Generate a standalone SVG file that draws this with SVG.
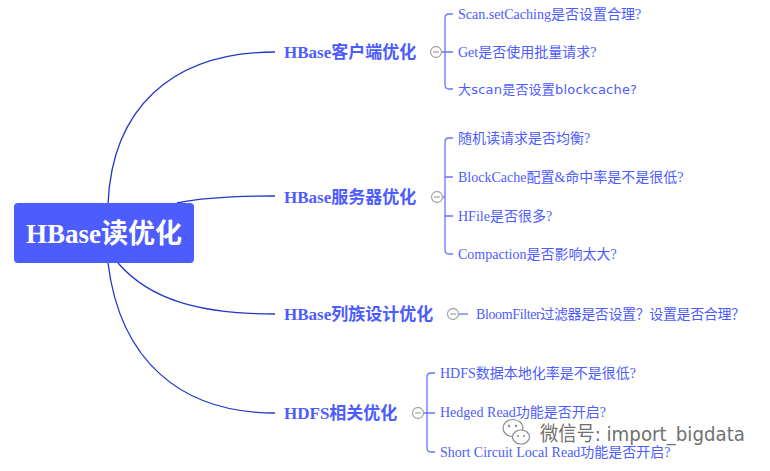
<svg xmlns="http://www.w3.org/2000/svg" width="770" height="471" viewBox="0 0 770 471">
<style>
.root{font-family:"Liberation Serif","Noto Sans CJK SC",serif;font-weight:bold;font-size:27px;fill:#ffffff}
.br{font-family:"Liberation Serif","Noto Sans CJK SC",serif;font-weight:bold;font-size:17px;fill:#4c5cff}
.lf{font-family:"Liberation Serif","Noto Sans CJK SC",serif;font-size:14px;fill:#4c5cff}
.lfs{font-family:"DejaVu Sans","Noto Sans CJK SC",sans-serif;font-size:13px;fill:#4c5cff}
.conn{fill:none;stroke:#2236c8;stroke-width:1.3}
.brk{fill:none;stroke:#6575ff;stroke-width:1.3}
.tog circle{fill:#fff;stroke:#a8a8a8;stroke-width:1.3}
.tog line{stroke:#a8a8a8;stroke-width:1.3}
.wm{font-family:"DejaVu Sans","Noto Sans CJK SC",sans-serif;font-size:20px;fill:#707070}
</style>
<defs>
<g id="tg" class="tog"><circle cx="0" cy="0" r="5.5"/><line x1="-3" y1="0" x2="3" y2="0"/></g>
</defs>
<rect width="770" height="471" fill="#ffffff"/>
<g id="connectors">
<path class="conn" d="M108,204 C112,110 170,52 275,52"/>
<path class="conn" d="M177,203 C205,197 240,196 275,196"/>
<path class="conn" d="M118,263 C150,300 200,314 275,314"/>
<path class="conn" d="M108,263 C120,360 180,413 275,413"/>
<path class="brk" d="M453,14 L449,14 Q445,14 445,18 L445,85 Q445,89 449,89 L453,89 M441,52 L453,52"/>
<path class="brk" d="M453,138 L449,138 Q445,138 445,142 L445,250 Q445,254 449,254 L453,254 M445,177 L453,177 M445,216 L453,216 M442,197 L445,197"/>
<path class="brk" d="M459,314 L468,314"/>
<path class="brk" d="M435,373 L431,373 Q427,373 427,377 L427,448 Q427,452 431,452 L435,452 M423,413 L435,413"/>
</g>
<g id="root">
<rect x="14" y="203" width="180" height="60" rx="4" fill="#4c5cfd"/>
<text class="root" x="104" y="243" text-anchor="middle">HBase读优化</text>
</g>
<g id="n-client">
<text class="br" x="284" y="58">HBase客户端优化</text>
<use href="#tg" x="436" y="52"/>
</g>
<g id="n-server">
<text class="br" x="284" y="203">HBase服务器优化</text>
<use href="#tg" x="437" y="197"/>
</g>
<g id="n-cf">
<text class="br" x="284" y="320">HBase列族设计优化</text>
<use href="#tg" x="453" y="314"/>
</g>
<g id="n-hdfs">
<text class="br" x="284" y="419">HDFS相关优化</text>
<use href="#tg" x="418" y="413"/>
</g>
<g id="l-c1"><text class="lf" x="458" y="19">Scan.setCaching是否设置合理?</text></g>
<g id="l-c2"><text class="lf" x="458" y="57">Get是否使用批量请求?</text></g>
<g id="l-c3"><text class="lfs" x="458" y="94" textLength="179">大scan是否设置blockcache?</text></g>
<g id="l-s1"><text class="lf" x="458" y="143">随机读请求是否均衡?</text></g>
<g id="l-s2"><text class="lf" x="458" y="182">BlockCache配置&amp;命中率是不是很低?</text></g>
<g id="l-s3"><text class="lf" x="458" y="221">HFile是否很多?</text></g>
<g id="l-s4"><text class="lf" x="458" y="259">Compaction是否影响太大?</text></g>
<g id="l-f1"><text class="lf" x="476" y="319" textLength="269">BloomFilter过滤器是否设置？设置是否合理？</text></g>
<g id="l-h1"><text class="lf" x="440" y="378">HDFS数据本地化率是不是很低?</text></g>
<g id="l-h2"><text class="lf" x="440" y="417">Hedged Read功能是否开启?</text></g>
<g id="l-h3"><text class="lf" x="440" y="457">Short Circuit Local Read功能是否开启?</text></g>
<g id="watermark">
<g fill="none" stroke="#8a8a8a" stroke-width="1.2">
<ellipse cx="513" cy="428" rx="10" ry="8.5"/>
<ellipse cx="521" cy="437" rx="8.5" ry="7" fill="#ffffff"/>
</g>
<g fill="#8a8a8a">
<circle cx="509" cy="426" r="1.2"/><circle cx="516" cy="426" r="1.2"/>
<circle cx="518" cy="436" r="1"/><circle cx="524" cy="436" r="1"/>
</g>
<text class="wm" x="540" y="441" textLength="205" lengthAdjust="spacingAndGlyphs">微信号: import_bigdata</text>
</g>
</svg>
